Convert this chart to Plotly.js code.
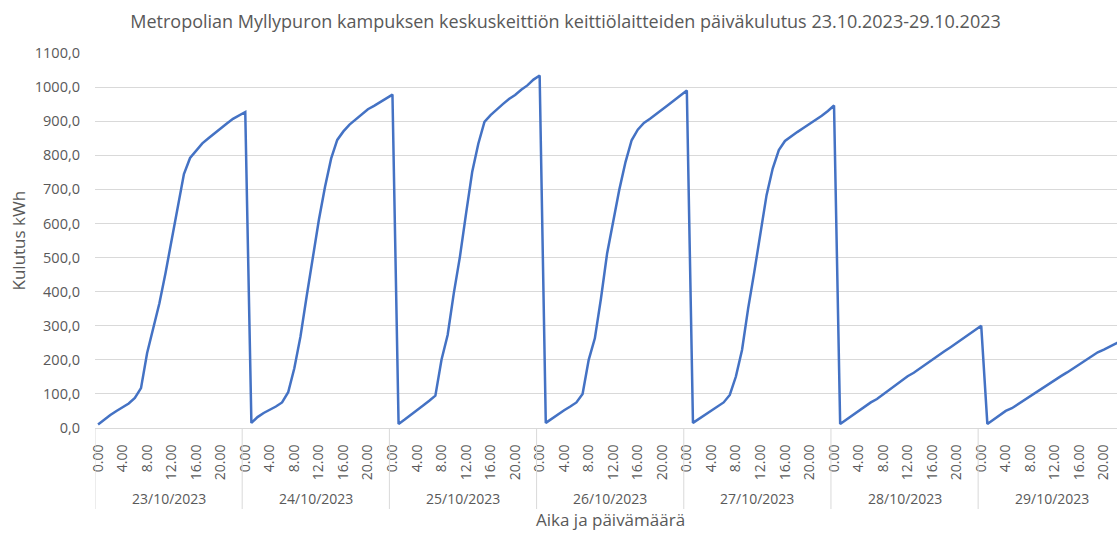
<!DOCTYPE html>
<html>
<head>
<meta charset="utf-8">
<script src="https://cdn.plot.ly/plotly-3.0.1.min.js"></script>
<style>
  html, body { margin: 0; padding: 0; background: #ffffff; overflow: hidden; }
  #chart { width: 1117px; height: 533px; }
</style>
</head>
<body>
<div id="chart"></div>
<script>
// Dates (categories of the outer axis level)
const dates = ['23/10/2023', '24/10/2023', '25/10/2023', '26/10/2023', '27/10/2023', '28/10/2023', '29/10/2023'];
// Hour tick labels shown every 4 hours
const hourLabels = ['0.00', '4.00', '8.00', '12.00', '16.00', '20.00'];
const hourStep = 4;
const hoursPerDay = 24;

// Cumulative daily consumption, kWh, hourly readings 0..23 for each day
const d23 = [10, 25, 38, 50, 60, 72, 88, 117, 220, 290, 366, 455, 555, 655, 745, 792, 815, 835, 850, 865, 880, 893, 907, 918];
const d24 = [927, 15, 32, 44, 53, 63, 75, 105, 175, 268, 385, 500, 610, 707, 790, 845, 870, 890, 905, 920, 935, 945, 955, 967];
const d25 = [978, 12, 25, 38, 52, 66, 80, 95, 200, 273, 395, 502, 629, 751, 834, 898, 918, 935, 950, 965, 977, 992, 1005, 1022];
const d26 = [1034, 15, 28, 40, 52, 63, 75, 100, 200, 263, 380, 512, 610, 700, 780, 844, 875, 895, 907, 920, 933, 948, 962, 975];
const d27 = [990, 15, 27, 39, 50, 62, 75, 97, 151, 229, 351, 458, 571, 683, 761, 815, 842, 856, 868, 880, 892, 903, 916, 930];
const d28 = [946, 12, 25, 37, 50, 62, 75, 85, 98, 112, 125, 138, 152, 162, 175, 188, 200, 213, 225, 237, 250, 263, 275, 287];
const d29 = [300, 12, 25, 37, 50, 58, 70, 82, 93, 105, 116, 128, 140, 152, 163, 175, 186, 198, 210, 222, 230, 238, 248, 258];

const days = [d23, d24, d25, d26, d27, d28, d29];
const y = [].concat(...days);
const x = y.map((_, i) => i);

const tickvals = [];
const ticktext = [];
dates.forEach((d, di) => {
  hourLabels.forEach((h, hi) => {
    tickvals.push(di * hoursPerDay + hi * hourStep);
    ticktext.push(h);
  });
});

const txtColor = '#595959';
const gridColor = '#d9d9d9';
const font = 'Open Sans, Noto Sans, sans-serif';

// Layout geometry (px)
const W = 1117, H = 533;
const mL = 95, mR = 0, mT = 53, mB = 105;
const plotW = W - mL - mR;
const plotH = H - mT - mB;
const pxPerHour = 6.133;
const xMax = -0.5 + plotW / pxPerHour;

const shapes = [];
for (let d = 0; d <= dates.length; d++) {
  shapes.push({
    type: 'line', xref: 'x', yref: 'paper',
    x0: d * hoursPerDay - 0.5, x1: d * hoursPerDay - 0.5,
    y0: 0, y1: -81 / plotH,
    line: { color: gridColor, width: 1 }
  });
}

const annotations = dates.map((d, di) => ({
  xref: 'x', yref: 'paper',
  x: di * hoursPerDay + hoursPerDay / 2 - 0.5,
  y: -70 / plotH,
  text: d, showarrow: false,
  xanchor: 'center', yanchor: 'middle',
  font: { family: font, size: 14, color: txtColor }
}));

// Axis titles
annotations.push({
  xref: 'paper', yref: 'paper',
  x: (610 - mL) / plotW, y: -91 / plotH,
  text: 'Aika ja päivämäärä', showarrow: false,
  xanchor: 'center', yanchor: 'middle',
  font: { family: font, size: 17, color: txtColor }
});
annotations.push({
  xref: 'paper', yref: 'paper',
  x: (18 - mL) / plotW, y: 0.5,
  text: 'Kulutus kWh', showarrow: false, textangle: -90,
  xanchor: 'center', yanchor: 'middle',
  font: { family: font, size: 17, color: txtColor }
});

const trace = {
  x: x, y: y,
  type: 'scatter', mode: 'lines',
  line: { color: '#4472c4', width: 2.5 },
  hoverinfo: 'y'
};

const layout = {
  width: W, height: H,
  margin: { l: mL, r: mR, t: mT, b: mB, pad: 0 },
  paper_bgcolor: '#ffffff', plot_bgcolor: '#ffffff',
  separators: ', ',
  showlegend: false,
  title: {
    text: 'Metropolian Myllypuron kampuksen keskuskeittiön keittiölaitteiden päiväkulutus 23.10.2023-29.10.2023',
    x: 565.5 / W, xanchor: 'center', xref: 'container',
    y: 1 - 22 / H, yanchor: 'middle', yref: 'container',
    font: { family: font, size: 18, color: txtColor }
  },
  xaxis: {
    range: [-0.5, xMax],
    tickmode: 'array', tickvals: tickvals, ticktext: ticktext,
    tickangle: -90,
    ticks: '', ticklabelstandoff: 10,
    showgrid: false, zeroline: false,
    showline: true, linecolor: gridColor, linewidth: 1,
    tickfont: { family: font, size: 14, color: txtColor },
    fixedrange: true
  },
  yaxis: {
    range: [0, 1100], dtick: 100, tick0: 0,
    tickformat: '.1f',
    ticks: '', ticklabelstandoff: 14,
    showgrid: true, gridcolor: gridColor, gridwidth: 1,
    zeroline: false, showline: false,
    tickfont: { family: font, size: 14.5, color: txtColor },
    fixedrange: true
  },
  shapes: shapes,
  annotations: annotations
};

Plotly.newPlot('chart', [trace], layout, { displayModeBar: false, staticPlot: true });
</script>
</body>
</html>
